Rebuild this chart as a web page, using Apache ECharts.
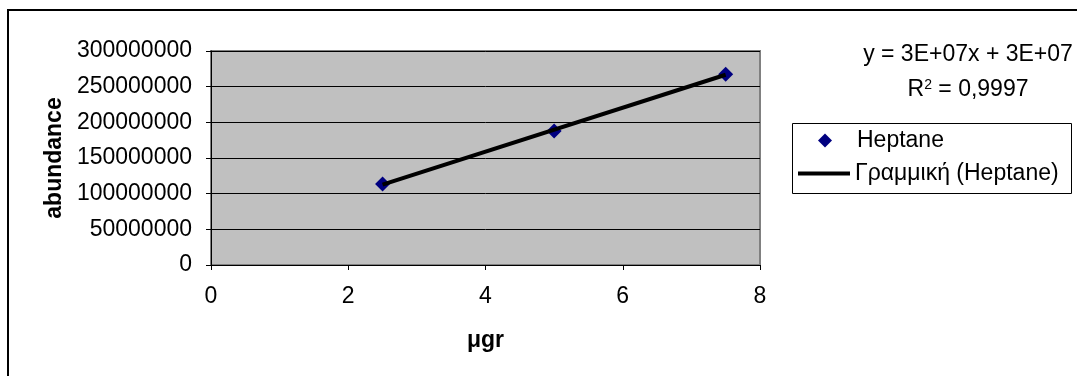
<!DOCTYPE html>
<html>
<head>
<meta charset="utf-8">
<script src="https://cdn.jsdelivr.net/npm/echarts@6/dist/echarts.min.js"></script>
<style>
  html, body { margin: 0; padding: 0; background: #fff; }
  #chart { width: 1077px; height: 376px; }
</style>
</head>
<body>
<div id="chart"></div>
<script>
// data
var micrograms = [2.5, 5, 7.5];
var abundance = [113500000, 188000000, 267500000];
var seriesName = 'Heptane';
var trendName = 'Γραμμική (Heptane)';
var equationText = 'y = 3E+07x + 3E+07';
var r2Text = '0,9997';

// least squares trendline over the points (what excel draws)
function linFit(xs, ys) {
	var n = xs.length, sx = 0, sy = 0, sxx = 0, sxy = 0;
	for (var i = 0; i < n; i++) {
		sx += xs[i]; sy += ys[i];
		sxx += xs[i] * xs[i]; sxy += xs[i] * ys[i];
	}
	var b = (n * sxy - sx * sy) / (n * sxx - sx * sx);
	var a = (sy - b * sx) / n;
	return { a: a, b: b };
}
var fit = linFit(micrograms, abundance);
var xFirst = micrograms[0], xLast = micrograms[micrograms.length - 1];
var trendData = [[xFirst, fit.a + fit.b * xFirst], [xLast, fit.a + fit.b * xLast]];

var points = micrograms.map(function (x, i) { return [x, abundance[i]]; });

var FONT = "'Liberation Sans', Arial, sans-serif";

var myChart = echarts.init(document.getElementById('chart'), null, { renderer: 'canvas' });

var option = {
	animation: false,
	backgroundColor: '#fff',
	textStyle: { fontFamily: FONT, color: '#000' },
	grid: {
		left: 211, top: 51, right: 317, bottom: 111,
		show: true,
		backgroundColor: '#c0c0c0',
		borderColor: '#808080',
		borderWidth: 2
	},
	xAxis: {
		type: 'value',
		min: 0, max: 8, interval: 2,
		name: 'μgr',
		nameLocation: 'middle',
		nameGap: 64,
		nameTextStyle: { fontFamily: FONT, fontSize: 23, fontWeight: 'bold', color: '#000' },
		axisLine: { show: true, onZero: false, lineStyle: { color: '#000', width: 1 } },
		axisTick: { show: true, length: 5, lineStyle: { color: '#000' } },
		axisLabel: { margin: 20, fontFamily: FONT, fontSize: 23, color: '#000' },
		splitLine: { show: false }
	},
	yAxis: {
		type: 'value',
		min: 0, max: 300000000, interval: 50000000,
		name: 'abundance',
		nameLocation: 'middle',
		nameGap: 144,
		nameTextStyle: { fontFamily: FONT, fontSize: 23, fontWeight: 'bold', color: '#000' },
		axisLine: { show: true, lineStyle: { color: '#000', width: 1 } },
		axisTick: { show: true, length: 5, lineStyle: { color: '#000' } },
		axisLabel: {
			margin: 19, fontFamily: FONT, fontSize: 23, color: '#000',
			formatter: function (v) { return String(v); }
		},
		splitLine: { show: true, lineStyle: { color: '#000', width: 1 } }
	},
	legend: [
		{
			// marker entry
			left: 818, top: 129,
			padding: 0,
			itemWidth: 14, itemHeight: 14,
			itemStyle: { borderWidth: 0, opacity: 1 },
			textStyle: { fontFamily: FONT, fontSize: 23, color: '#000', padding: [0, 0, 0, 20] },
			data: [{ name: seriesName, icon: 'diamond' }]
		},
		{
			// trendline entry
			left: 798, top: 162,
			padding: 0,
			itemWidth: 52, itemHeight: 4,
			textStyle: { fontFamily: FONT, fontSize: 23, color: '#000' },
			data: [{ name: trendName, icon: 'rect' }]
		}
	],
	series: [
		{
			name: seriesName,
			type: 'scatter',
			symbol: 'diamond',
			symbolSize: 15,
			itemStyle: { color: '#000080', borderWidth: 0, opacity: 1 },
			data: points,
			z: 2
		},
		{
			name: trendName,
			type: 'line',
			symbol: 'none',
			showSymbol: false,
			lineStyle: { color: '#000', width: 4 },
			itemStyle: { color: '#000' },
			data: trendData,
			z: 3
		}
	],
	graphic: [
		{
			type: 'polyline',
			shape: { points: [[8, 376], [8, 10], [1077, 10]] },
			style: { stroke: '#000', lineWidth: 2, fill: null },
			silent: true
		},
		{
			// legend frame
			type: 'rect',
			shape: { x: 792.5, y: 123.5, width: 279, height: 70 },
			style: { fill: '#fff', stroke: '#000', lineWidth: 1 },
			silent: true,
			z: 0
		},
		{
			type: 'text',
			x: 968, y: 55,
			style: {
				text: equationText,
				font: '23px ' + FONT,
				fill: '#000',
				textAlign: 'center',
				textVerticalAlign: 'middle'
			}
		},
		{
			type: 'text',
			x: 968, y: 90,
			style: {
				text: 'R{sup|2} = ' + r2Text,
				font: '23px ' + FONT,
				fill: '#000',
				textAlign: 'center',
				textVerticalAlign: 'middle',
				rich: {
					sup: { fontSize: 14, fontFamily: FONT, verticalAlign: 'top', padding: [0, 0, 10, 0] }
				}
			}
		}
	]
};

myChart.setOption(option);
</script>
</body>
</html>
